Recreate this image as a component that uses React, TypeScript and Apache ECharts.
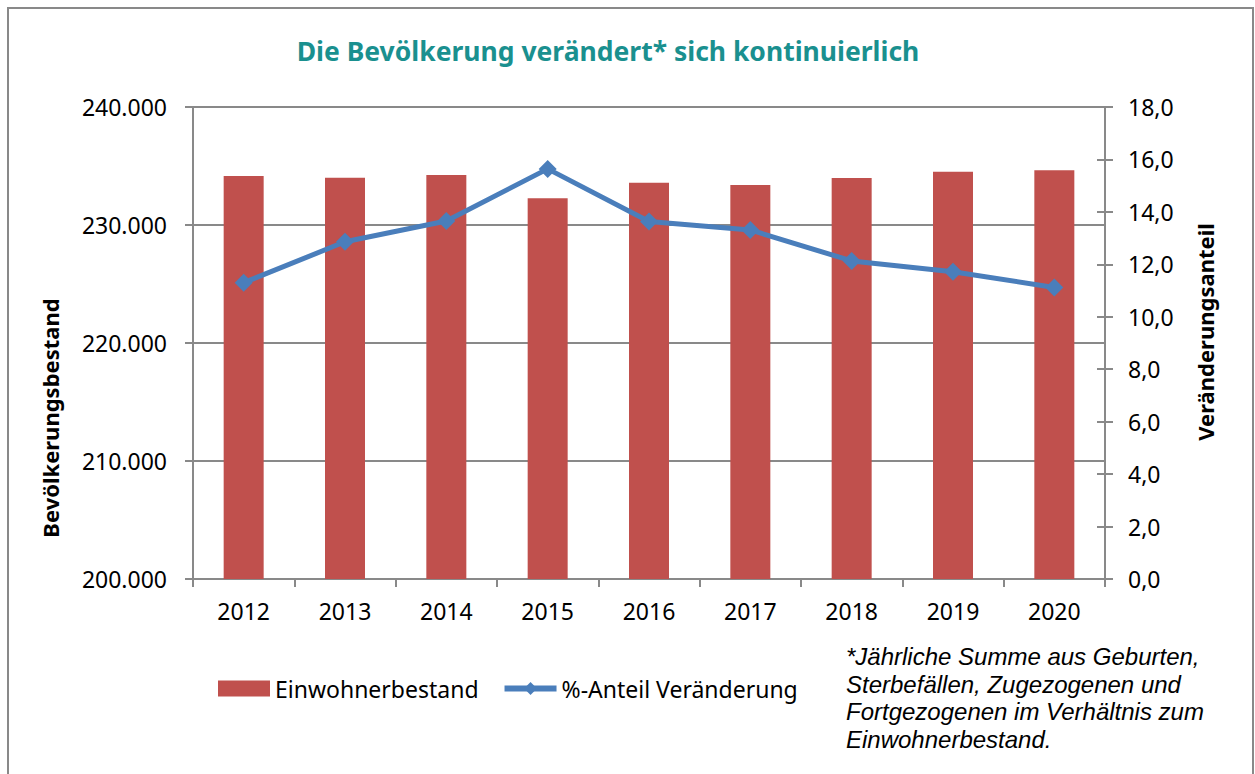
import React, { useEffect, useRef } from "react";
import * as echarts from "echarts";

const years = ["2012", "2013", "2014", "2015", "2016", "2017", "2018", "2019", "2020"];
const einwohner = [234150, 234010, 234240, 232270, 233590, 233390, 233980, 234520, 234630];
const anteil = [11.3, 12.86, 13.65, 15.64, 13.63, 13.31, 12.13, 11.72, 11.12];

const titleText = "Die Bevölkerung verändert* sich kontinuierlich";
const leftTitle = "Bevölkerungsbestand";
const rightTitle = "Veränderungsanteil";
const footnote = [
  "*Jährliche Summe aus Geburten,",
  "Sterbefällen, Zugezogenen und",
  "Fortgezogenen im Verhältnis zum",
  "Einwohnerbestand.",
];

const FONT = "'Noto Sans', 'Open Sans', sans-serif";
const GREY = "#898989";

export default function App() {
  const ref = useRef<HTMLDivElement>(null);
  useEffect(() => {
    if (!ref.current) return;
    const chart = echarts.init(ref.current, null, { renderer: "svg" });
    chart.setOption({
      animation: false,
      backgroundColor: "#ffffff",
      textStyle: { fontFamily: FONT },
      grid: { left: 193, right: 150, top: 107, bottom: 195, containLabel: false },
      title: {
        text: titleText,
        left: 603,
        textAlign: "center",
        top: 32,
        textStyle: { color: "#1A908F", fontSize: 26.5, fontWeight: "bold", fontFamily: FONT },
      },
      legend: {
        left: 213,
        top: 672,
        itemWidth: 52,
        itemHeight: 16,
        itemGap: 23,
        textStyle: { fontSize: 23, color: "#000", fontFamily: FONT },
        data: [
          { name: "Einwohnerbestand", icon: "rect" },
          {
            name: "%-Anteil Veränderung",
            lineStyle: { width: 6, color: "#4A7EBB" },
          },
        ],
      },
      xAxis: {
        type: "category",
        data: years,
        boundaryGap: true,
        axisLine: { lineStyle: { color: GREY, width: 2 } },
        axisTick: { show: true, length: 8, interval: 0, lineStyle: { color: GREY, width: 2 } },
        axisLabel: { color: "#000", fontSize: 23, margin: 20, fontFamily: FONT },
      },
      yAxis: [
        {
          type: "value",
          position: "left",
          min: 200000,
          max: 240000,
          interval: 10000,
          axisLine: { show: true, lineStyle: { color: GREY, width: 2 } },
          axisTick: { show: true, length: 8, lineStyle: { color: GREY, width: 2 } },
          splitLine: { show: true, lineStyle: { color: GREY, width: 2 } },
          axisLabel: {
            color: "#000",
            fontSize: 23,
            margin: 26,
            fontFamily: FONT,
            formatter: (v: number) => v.toLocaleString("de-DE"),
          },
        },
        {
          type: "value",
          position: "right",
          min: 0,
          max: 18,
          interval: 2,
          axisLine: { show: true, lineStyle: { color: GREY, width: 2 } },
          axisTick: { show: true, length: 8, lineStyle: { color: GREY, width: 2 } },
          splitLine: { show: false },
          axisLabel: {
            color: "#000",
            fontSize: 23,
            margin: 23,
            fontFamily: FONT,
            formatter: (v: number) => v.toFixed(1).replace(".", ","),
          },
        },
        {
          type: "value",
          position: "right",
          min: 0,
          max: 18,
          interval: 2,
          axisLine: { show: false },
          axisTick: { show: true, inside: true, length: 8, lineStyle: { color: GREY, width: 2 } },
          splitLine: { show: false },
          axisLabel: { show: false },
        },
      ],
      series: [
        {
          name: "Einwohnerbestand",
          type: "bar",
          data: einwohner,
          yAxisIndex: 0,
          barWidth: 40,
          itemStyle: { color: "#C0504D" },
        },
        {
          name: "%-Anteil Veränderung",
          type: "line",
          data: anteil,
          yAxisIndex: 1,
          symbol: "diamond",
          symbolSize: 18,
          lineStyle: { color: "#4A7EBB", width: 5 },
          itemStyle: { color: "#4A7EBB" },
          z: 5,
        },
      ],
      graphic: [
        {
          type: "rect",
          shape: { x: 8, y: 8, width: 1245, height: 800 },
          style: { fill: "none", stroke: GREY, lineWidth: 2 },
          silent: true,
          z: -1,
        },
        {
          type: "text",
          x: 50,
          y: 418,
          rotation: Math.PI / 2,
          style: {
            text: leftTitle,
            fontSize: 22,
            fontWeight: "bold",
            fontFamily: FONT,
            fill: "#000",
            align: "center",
            verticalAlign: "middle",
          },
        },
        {
          type: "text",
          x: 1205,
          y: 332,
          rotation: Math.PI / 2,
          style: {
            text: rightTitle,
            fontSize: 22,
            fontWeight: "bold",
            fontFamily: FONT,
            fill: "#000",
            align: "center",
            verticalAlign: "middle",
          },
        },
        {
          type: "text",
          left: 846,
          top: 643,
          style: {
            text: footnote.join("\n"),
            fontSize: 24,
            lineHeight: 27.5,
            fontStyle: "italic",
            fontFamily: "'Liberation Sans', Arial, sans-serif",
            fill: "#000",
          },
        },
      ],
    });
    return () => chart.dispose();
  }, []);
  return (
    <div
      ref={ref}
      style={{ position: "fixed", left: 0, top: 0, width: 1255, height: 774 }}
    />
  );
}
